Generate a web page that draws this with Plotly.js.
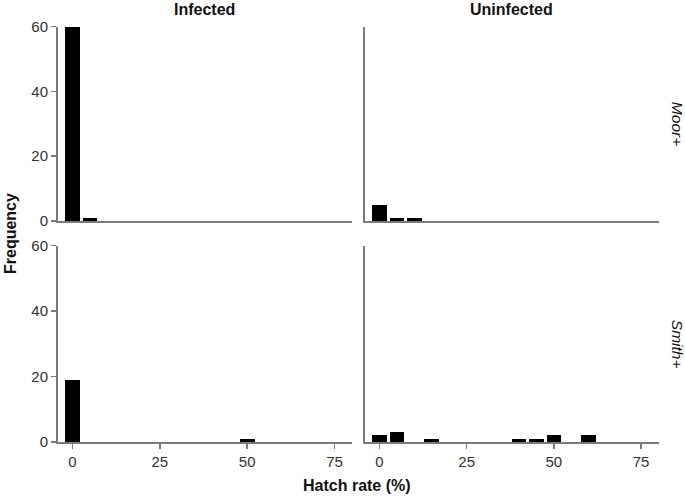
<!DOCTYPE html>
<html>
<head>
<meta charset="utf-8">
<script src="https://cdn.plot.ly/plotly-3.0.1.min.js"></script>
<style>
  html, body { margin: 0; padding: 0; background: #fff; }
  #plot { width: 685px; height: 496px; }
</style>
</head>
<body>
<div id="plot"></div>
<script>
// hatch-rate bins (%), bin centres
const moorInfectedX = [0, 5];
const moorInfectedN = [60, 1];
const moorUninfectedX = [0, 5, 10];
const moorUninfectedN = [5, 1, 1];
const smithInfectedX = [0, 50];
const smithInfectedN = [19, 1];
const smithUninfectedX = [0, 5, 15, 40, 45, 50, 60];
const smithUninfectedN = [2, 3, 1, 1, 1, 2, 2];

const colTitles = ['Infected', 'Uninfected'];
const rowTitles = ['Moor+', 'Smith+'];
const xTicks = [0, 25, 50, 75];
const yTicks = [0, 20, 40, 60];

const FONT = 'Liberation Sans, Arial, sans-serif';
const AXIS_GREY = '#7a7a7a';

function barTrace(x, y, xa, ya) {
    return {
        type: 'bar',
        x: x,
        y: y,
        xaxis: xa,
        yaxis: ya,
        width: 4.2,
        marker: { color: '#000000', line: { width: 0 } },
        showlegend: false,
        hoverinfo: 'x+y'
    };
}

const data = [
    barTrace(moorInfectedX, moorInfectedN, 'x', 'y'),
    barTrace(moorUninfectedX, moorUninfectedN, 'x2', 'y2'),
    barTrace(smithInfectedX, smithInfectedN, 'x3', 'y3'),
    barTrace(smithUninfectedX, smithUninfectedN, 'x4', 'y4')
];

const leftDom = [57.5 / 685, 352 / 685];
const rightDom = [364.5 / 685, 658.5 / 685];
const topDom = [1 - 221 / 496, 1 - 26.7 / 496];
const botDom = [1 - 442 / 496, 1 - 245.7 / 496];

function xAxis(dom, anchor, showTicks) {
    return {
        domain: dom,
        anchor: anchor,
        range: [-4.3, 80],
        showgrid: false,
        zeroline: false,
        showline: true,
        linecolor: AXIS_GREY,
        linewidth: 1.5,
        tickmode: 'array',
        tickvals: xTicks,
        ticks: showTicks ? 'outside' : '',
        ticklen: 5,
        tickwidth: 1.5,
        tickcolor: AXIS_GREY,
        showticklabels: showTicks,
        tickfont: { family: FONT, size: 15, color: '#333' },
        fixedrange: true
    };
}

function yAxis(dom, anchor, showTicks) {
    return {
        domain: dom,
        anchor: anchor,
        range: [0, 60],
        showgrid: false,
        zeroline: false,
        showline: true,
        linecolor: AXIS_GREY,
        linewidth: 1.5,
        tickmode: 'array',
        tickvals: yTicks,
        ticks: showTicks ? 'outside' : '',
        ticklen: 5,
        tickwidth: 1.5,
        tickcolor: AXIS_GREY,
        showticklabels: showTicks,
        tickfont: { family: FONT, size: 15, color: '#333' },
        fixedrange: true
    };
}

const annotations = [
    { text: '<b>' + colTitles[0] + '</b>', x: (leftDom[0] + leftDom[1]) / 2, y: 1 - 9 / 496 },
    { text: '<b>' + colTitles[1] + '</b>', x: (rightDom[0] + rightDom[1]) / 2, y: 1 - 9 / 496 },
    { text: '<i>' + rowTitles[0] + '</i>', x: 677 / 685, y: (topDom[0] + topDom[1]) / 2, textangle: 90, size: 15.5 },
    { text: '<i>' + rowTitles[1] + '</i>', x: 677 / 685, y: (botDom[0] + botDom[1]) / 2, textangle: 90, size: 15.5 },
    { text: '<b>Frequency</b>', x: 10 / 685, y: 1 - 234 / 496, textangle: -90 },
    { text: '<b>Hatch rate (%)</b>', x: 357 / 685, y: 1 - 485 / 496 }
].map(a => ({
    text: a.text,
    x: a.x,
    y: a.y,
    xref: 'paper',
    yref: 'paper',
    xanchor: 'center',
    yanchor: 'middle',
    textangle: a.textangle || 0,
    showarrow: false,
    font: { family: FONT, size: a.size || 16, color: '#111' }
}));

const layout = {
    width: 685,
    height: 496,
    margin: { l: 0, r: 0, t: 0, b: 0 },
    paper_bgcolor: '#ffffff',
    plot_bgcolor: '#ffffff',
    bargap: 0,
    xaxis: xAxis(leftDom, 'y', false),
    yaxis: yAxis(topDom, 'x', true),
    xaxis2: xAxis(rightDom, 'y2', false),
    yaxis2: yAxis(topDom, 'x2', false),
    xaxis3: xAxis(leftDom, 'y3', true),
    yaxis3: yAxis(botDom, 'x3', true),
    xaxis4: xAxis(rightDom, 'y4', true),
    yaxis4: yAxis(botDom, 'x4', false),
    annotations: annotations
};

Plotly.newPlot('plot', data, layout, { displayModeBar: false, staticPlot: true });
</script>
</body>
</html>
